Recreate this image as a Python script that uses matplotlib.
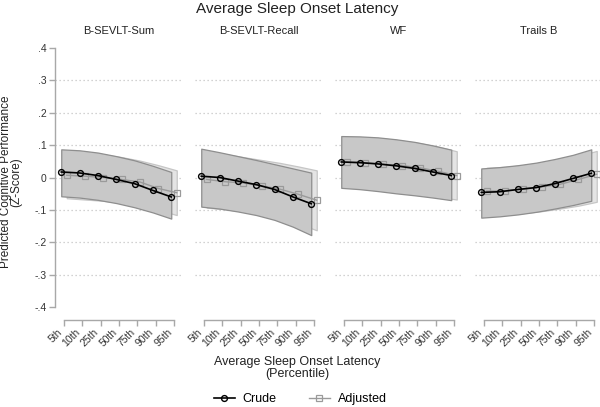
import matplotlib
matplotlib.use("Agg")
import matplotlib.pyplot as plt
from matplotlib.lines import Line2D
import numpy as np

plt.rcParams['font.family'] = ['Liberation Sans', 'DejaVu Sans']

percentiles = ["5th", "10th", "25th", "50th", "75th", "90th", "95th"]
panels = ["B-SEVLT-Sum", "B-SEVLT-Recall", "WF", "Trails B"]

crude = [
    [0.017, 0.014, 0.006, -0.006, -0.019, -0.040, -0.060],
    [0.004, 0.000, -0.011, -0.022, -0.037, -0.060, -0.081],
    [0.048, 0.046, 0.042, 0.036, 0.028, 0.017, 0.006],
    [-0.046, -0.044, -0.037, -0.031, -0.019, -0.003, 0.013],
]
crude_hi = [
    [0.087, 0.084, 0.077, 0.066, 0.053, 0.036, 0.017],
    [0.089, 0.078, 0.066, 0.054, 0.041, 0.028, 0.015],
    [0.128, 0.127, 0.124, 0.118, 0.110, 0.099, 0.086],
    [0.028, 0.032, 0.038, 0.046, 0.057, 0.070, 0.087],
]
crude_lo = [
    [-0.058, -0.062, -0.069, -0.079, -0.092, -0.108, -0.127],
    [-0.090, -0.096, -0.105, -0.116, -0.131, -0.152, -0.178],
    [-0.032, -0.036, -0.042, -0.049, -0.055, -0.062, -0.070],
    [-0.124, -0.120, -0.114, -0.106, -0.096, -0.085, -0.072],
]
adjusted = [
    [0.007, 0.004, 0.000, -0.006, -0.014, -0.034, -0.047],
    [-0.006, -0.013, -0.017, -0.026, -0.036, -0.052, -0.070],
    [0.047, 0.045, 0.041, 0.037, 0.030, 0.019, 0.006],
    [-0.042, -0.041, -0.035, -0.029, -0.021, -0.006, 0.010],
]
adj_hi = [
    [0.078, 0.076, 0.071, 0.063, 0.052, 0.038, 0.022],
    [0.081, 0.072, 0.063, 0.054, 0.045, 0.034, 0.022],
    [0.124, 0.123, 0.120, 0.114, 0.106, 0.095, 0.081],
    [0.030, 0.033, 0.038, 0.045, 0.055, 0.067, 0.082],
]
adj_lo = [
    [-0.064, -0.068, -0.072, -0.078, -0.085, -0.100, -0.116],
    [-0.093, -0.098, -0.105, -0.114, -0.126, -0.142, -0.163],
    [-0.030, -0.034, -0.040, -0.047, -0.053, -0.060, -0.068],
    [-0.118, -0.115, -0.110, -0.104, -0.096, -0.087, -0.075],
]
yticks = [0.4, 0.3, 0.2, 0.1, 0.0, -0.1, -0.2, -0.3, -0.4]
ytick_labels = [".4", ".3", ".2", ".1", "0", "-.1", "-.2", "-.3", "-.4"]

W, H = 600, 407
fig = plt.figure(figsize=(6.0, 4.07), dpi=100)

tick_step = 110 / 6.0
xlim = (-0.5, 6.4)
top_px, bot_px = 48, 307
x_idx = np.arange(len(percentiles))
off = 0.15

for i, name in enumerate(panels):
    tick0 = 64 + 140 * i
    left_px = tick0 + xlim[0] * tick_step
    width_px = (xlim[1] - xlim[0]) * tick_step
    ax = fig.add_axes([left_px / W, (H - bot_px) / H, width_px / W, (bot_px - top_px) / H])
    ax.set_xlim(*xlim)
    ax.set_ylim(-0.4, 0.4)
    for g in [0.3, 0.2, 0.1, 0.0, -0.1, -0.2, -0.3]:
        ax.axhline(g, color="#c4c4c4", lw=0.9, ls=(0, (1, 2.2)), zorder=0)
    xa = x_idx + off
    xc = x_idx - off
    ax.fill_between(xa, adj_lo[i], adj_hi[i], facecolor="#e4e4e4", edgecolor="#c6c6c6", lw=0.9, zorder=1)
    ax.fill_between(xc, crude_lo[i], crude_hi[i], facecolor="#c8c8c8", edgecolor="#8e8e8e", lw=0.9, zorder=2)
    ax.plot(xa, adjusted[i], color="#9a9a9a", lw=1.0, marker="s", ms=4.2,
            mfc="none", mec="#9a9a9a", mew=0.9, zorder=3)
    ax.plot(xc, crude[i], color="black", lw=1.2, marker="o", ms=4.2,
            mfc="none", mec="black", mew=1.0, zorder=4)

    for s in ["top", "right"]:
        ax.spines[s].set_visible(False)
    ax.spines["bottom"].set_position(("outward", 9))
    ax.spines["bottom"].set_bounds(0, 6)
    ax.spines["bottom"].set_color("#a8a8a8")
    ax.spines["bottom"].set_linewidth(1.0)
    ax.set_xticks(x_idx)
    ax.set_xticklabels(percentiles, rotation=45, ha="right", va="top", fontsize=7.5, color="#333333")
    ax.tick_params(axis="x", length=4, width=1.0, color="#a8a8a8", pad=1.5)
    if i == 0:
        ax.spines["left"].set_color("#a8a8a8")
        ax.spines["left"].set_linewidth(1.0)
        ax.set_yticks(yticks)
        ax.set_yticklabels(ytick_labels, fontsize=7.5, color="#333333")
        ax.tick_params(axis="y", length=4, width=1.0, color="#a8a8a8", pad=2)
    else:
        ax.spines["left"].set_visible(False)
        ax.set_yticks([])
    cx = (tick0 + 55) / W
    fig.text(cx, 1 - 31 / H, name, ha="center", va="center", fontsize=8, color="#222222")

fig.text(297 / W, 1 - 9 / H, "Average Sleep Onset Latency", ha="center", va="center", fontsize=11, color="#222222")
fig.text(297 / W, 1 - 368 / H, "Average Sleep Onset Latency\n(Percentile)", ha="center", va="center",
         fontsize=9, color="#222222", linespacing=0.95)
fig.text(11 / W, 1 - 182 / H, "Predicted Cognitive Performance\n(Z-Score)", ha="center", va="center",
         rotation=90, fontsize=8.5, color="#222222", linespacing=0.85)

handles = [
    Line2D([], [], color="black", lw=1.2, marker="o", ms=4.2, mfc="none", mec="black", mew=1.0),
    Line2D([], [], color="#9a9a9a", lw=1.0, marker="s", ms=4.2, mfc="none", mec="#9a9a9a", mew=0.9),
]
fig.legend(handles, ["Crude", "Adjusted"], loc="center", bbox_to_anchor=(300 / W, 8 / H), ncol=2,
           frameon=False, fontsize=9, handlelength=1.7, columnspacing=2.6, handletextpad=0.6,
           borderaxespad=0)

fig.savefig("out.png", dpi=100)
